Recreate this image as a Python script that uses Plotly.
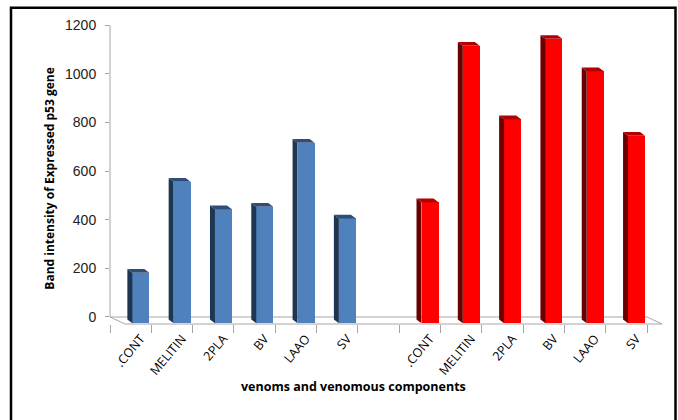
import plotly.graph_objects as go

# ---- data -------------------------------------------------------------
categories = [".CONT", "MELITIN", "2PLA", "BV", "LAAO", "SV"]
blue_values = [182, 556, 443, 453, 716, 405]
red_values = [472, 1115, 813, 1143, 1010, 745]
y_ticks = [0, 200, 400, 600, 800, 1000, 1200]

# slot positions: six blue columns, one empty slot, six red columns
blue_x = [0, 1, 2, 3, 4, 5]
red_x = [7, 8, 9, 10, 11, 12]

# ---- geometry (pixels) -------------------------------------------------
W, H = 678, 420
L, R, T = 110, 16, 25
FRONT_Y = 323.7            # front edge of the floor
BACK_Y = 316.7             # value 0 on the back wall
DX = 15.0                  # horizontal depth shift of the floor
plot_w = W - L - R
plot_h = FRONT_Y - T
px_per_unit = (BACK_Y - T) / 1200.0
y_min = -(FRONT_Y - BACK_Y) / px_per_unit
slot = (plot_w - DX) / 13.0


def px_x(p):
    return (p - L) / plot_w


def px_y(p):
    return (FRONT_Y - p) / plot_h


# column face offsets in slot units
FACE_L = 1.7 / slot
FACE_W = 17.0 / slot
SIDE_L = -3.3 / slot
CAP_H = 3.7 / px_per_unit
BASE_FRONT = -(FRONT_Y - 0.7 - BACK_Y) / px_per_unit
BASE_BACK = -2.5 / px_per_unit

fig = go.Figure()


def add_columns(xs, vals, face, side, cap):
    # darker left side and top of each column
    for x, v in zip(xs, vals):
        fl = x + FACE_L
        sl = x + SIDE_L
        fig.add_trace(go.Scatter(
            x=[sl, sl, fl, fl, sl], y=[BASE_BACK, v + CAP_H, v, BASE_FRONT, BASE_BACK],
            mode="lines", fill="toself", fillcolor=side, line=dict(width=0),
            hoverinfo="skip", showlegend=False))
        fig.add_trace(go.Scatter(
            x=[sl, sl + FACE_W, fl + FACE_W, fl, sl], y=[v + CAP_H, v + CAP_H, v, v, v + CAP_H],
            mode="lines", fill="toself", fillcolor=cap, line=dict(width=0),
            hoverinfo="skip", showlegend=False))
    # front faces
    fig.add_trace(go.Bar(
        x=xs, y=[v - BASE_FRONT for v in vals], base=BASE_FRONT,
        width=FACE_W, offset=FACE_L, marker=dict(color=face, line=dict(width=0)),
        hovertext=categories, showlegend=False))


add_columns(blue_x, blue_values, "#4F81BD", "#1F3652", "#2E4E78")
add_columns(red_x, red_values, "#FF0000", "#6A0000", "#B00000")

# ---- floor and axis lines --------------------------------------------
floor_col = "#A6A6A6"
x_back_l, x_back_r = L, L + 13 * slot
fig.add_shape(type="path", xref="paper", yref="paper",
              path=(f"M {px_x(x_back_l)} {px_y(BACK_Y)} L {px_x(x_back_r)} {px_y(BACK_Y)} "
                    f"L {px_x(x_back_r + DX)} {px_y(FRONT_Y)} L {px_x(x_back_l + DX)} {px_y(FRONT_Y)} Z"),
              line=dict(color=floor_col, width=1), layer="below")
fig.add_shape(type="line", xref="paper", yref="y",
              x0=0, x1=0, y0=0, y1=1200, line=dict(color=floor_col, width=1), layer="below")

# chart border
fig.add_shape(type="rect", xref="paper", yref="paper",
              x0=px_x(11), x1=px_x(675.5), y0=px_y(440), y1=px_y(7.7),
              line=dict(color="black", width=2.5), layer="below")

# ---- axes ----------------------------------------------------------------
back_dom = [0, (13 * slot) / plot_w]
front_dom = [DX / plot_w, 1]
x_range = [-0.5, 12.5]
label_shift = 10.0 / slot
label_range = [x_range[0] - label_shift, x_range[1] - label_shift]

fig.update_layout(
    width=W, height=H,
    margin=dict(l=L, r=R, t=T, b=H - FRONT_Y),
    paper_bgcolor="white", plot_bgcolor="rgba(0,0,0,0)",
    bargap=0, barmode="overlay",
    xaxis=dict(domain=back_dom, range=x_range, visible=False, fixedrange=True),
    xaxis2=dict(domain=front_dom, range=x_range, overlaying="x", anchor="y",
                tickmode="array", tickvals=[i - 0.5 for i in range(14)], ticktext=[""] * 14,
                ticks="outside", ticklen=8, tickcolor=floor_col, tickwidth=1,
                showgrid=False, showline=False, zeroline=False),
    xaxis3=dict(domain=front_dom, range=label_range, overlaying="x", anchor="y",
                tickmode="array", tickvals=blue_x + red_x, ticktext=categories + categories,
                tickangle=-50, ticks="", ticklabelstandoff=4,
                tickfont=dict(family="Open Sans", size=12.5, color="black"),
                showgrid=False, showline=False, zeroline=False),
    yaxis=dict(range=[y_min, 1200], tickmode="array", tickvals=y_ticks,
               ticks="outside", ticklen=4, tickcolor=floor_col, ticklabelstandoff=6,
               tickfont=dict(family="Liberation Sans", size=14, color="#222222"),
               showgrid=False, showline=False, zeroline=False, fixedrange=True),
    annotations=[
        dict(text="<b>Band intensity of Expressed p53 gene</b>", xref="paper", yref="paper",
             x=px_x(39), y=px_y(179), textangle=-90, showarrow=False,
             font=dict(family="Open Sans", size=12, color="black")),
        dict(text="<b>venoms and venomous components</b>", xref="paper", yref="paper",
             x=px_x(353), y=px_y(396.7), showarrow=False,
             font=dict(family="Open Sans", size=12.5, color="black")),
    ],
)

# dummy traces so the front axes are drawn
fig.add_trace(go.Scatter(x=[None], y=[None], xaxis="x2", showlegend=False))
fig.add_trace(go.Scatter(x=[None], y=[None], xaxis="x3", showlegend=False))

fig.write_html("out.html")
